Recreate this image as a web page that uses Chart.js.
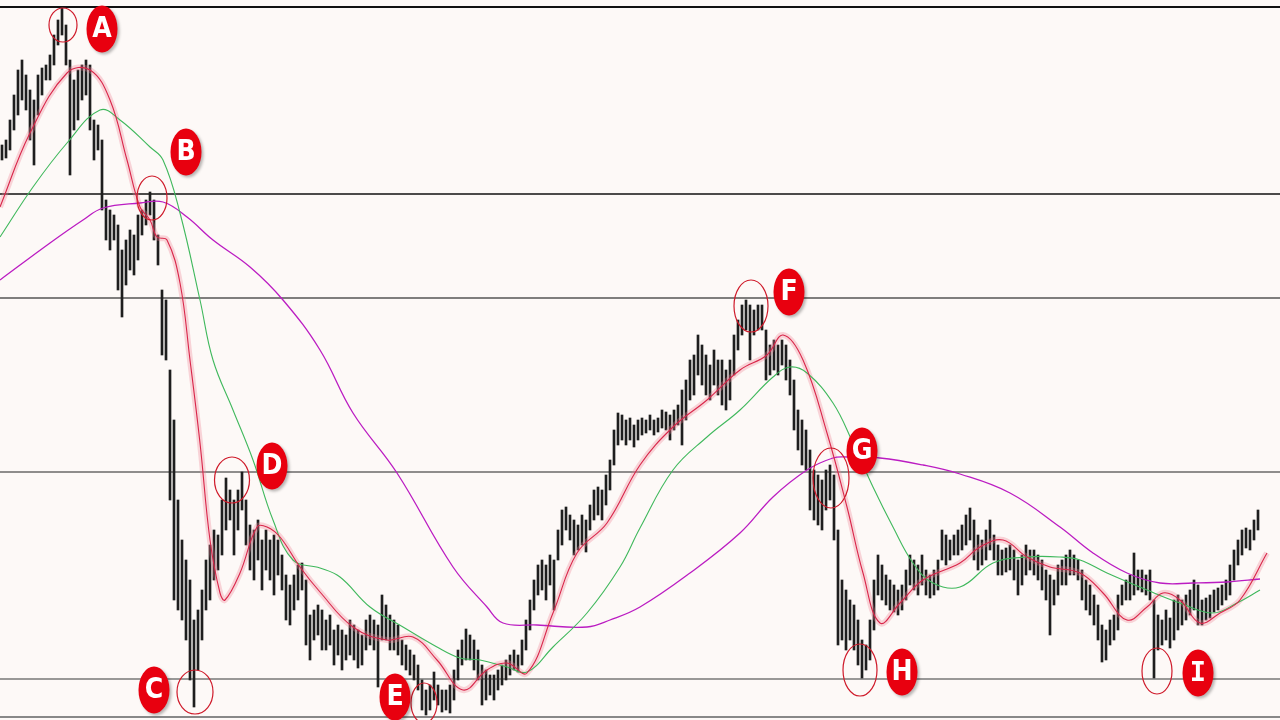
<!DOCTYPE html>
<html><head><meta charset="utf-8">
<script src="https://cdn.jsdelivr.net/npm/chart.js@4.4.1/dist/chart.umd.min.js"></script>
<style>html,body{margin:0;padding:0;background:#fdf9f7;overflow:hidden}canvas{display:block}</style>
</head><body>
<canvas id="c" width="1280" height="720"></canvas>
<script>
// Price bars (high / low), one per period
const barHigh = [575,580,600,625,650,660,645,630,620,645,652,655,665,685,700,713,695,660,640,650,
655,660,655,600,595,580,520,510,505,495,470,480,490,485,505,510,520,528,520,485,
430,420,350,300,220,180,160,140,100,110,130,160,175,190,185,220,242,230,220,230,
248,220,195,190,200,180,190,180,185,180,165,145,135,145,155,157,140,105,110,115,
110,100,105,90,95,90,85,100,95,90,85,100,105,100,95,125,115,105,100,95,
80,75,70,65,55,40,30,35,48,35,30,30,35,50,70,80,91,85,80,70,
55,50,45,45,50,55,60,65,70,65,80,100,120,140,155,160,155,165,160,190,
210,213,205,200,195,205,200,215,230,233,230,245,260,290,307,305,300,302,295,300,
302,300,305,300,302,310,308,305,310,315,330,340,360,365,385,375,365,355,370,360,
360,350,360,385,400,415,420,415,410,415,415,390,375,380,375,380,375,360,340,310,
300,290,270,250,245,240,250,255,245,190,140,130,120,115,100,80,75,100,140,165,
155,145,140,135,130,135,150,165,160,155,165,150,145,150,160,190,185,180,185,190,
195,205,212,200,185,180,190,200,185,175,170,172,175,170,160,165,175,170,170,165,
160,150,145,140,155,160,165,170,165,160,150,140,135,125,115,95,90,100,105,125,
135,140,145,167,150,150,145,150,120,105,100,110,102,120,125,120,125,130,140,135,
120,122,125,130,132,135,140,155,170,180,190,192,190,200,210];
const barLow = [560,562,570,590,605,620,610,580,555,605,625,640,640,655,675,685,655,545,590,600,
620,625,590,560,570,510,480,470,480,430,403,435,450,445,460,485,495,505,480,455,
365,360,220,120,110,100,80,40,13,50,80,110,120,140,150,165,190,200,165,190,
210,175,150,140,160,130,150,140,125,145,130,100,95,110,120,130,75,60,80,85,
70,70,75,55,65,50,60,65,60,52,55,70,75,70,33,80,80,70,70,65,
55,50,45,40,30,10,5,10,20,15,8,10,7,20,40,55,60,60,50,40,
15,20,25,20,30,35,40,45,50,48,55,70,90,110,125,130,120,135,110,160,
175,190,180,165,170,175,168,190,200,205,200,215,230,255,275,280,275,280,273,280,
285,287,290,285,288,292,290,280,290,295,275,300,320,325,345,335,325,320,335,325,
315,310,320,345,370,385,390,360,385,390,390,340,345,350,345,355,340,325,290,270,
255,250,210,200,195,190,210,220,180,75,80,70,80,70,55,42,50,60,90,125,
120,115,110,108,105,110,120,135,130,125,135,125,122,125,130,160,155,160,165,165,
170,175,180,160,150,155,160,170,160,145,145,148,150,140,125,135,145,150,145,140,
130,120,85,115,125,135,135,145,145,140,120,110,105,95,80,58,60,75,80,90,
115,120,120,125,130,128,125,120,42,70,75,80,72,80,90,95,100,105,110,95,
95,100,102,108,110,115,120,125,140,155,165,172,170,180,190];

// Moving averages (period index, price)
const maFastX = [-0.5,7,16.25,22,27,31.25,34.5,37,38.75,41.25,44.5,47,49.5,52,54.5,55.75,59.5,63.75,66.25,69.5,
74.5,79.5,87.75,96.25,102.75,108.75,115.25,121.25,126.25,131.25,137.75,143.75,151.25,159.5,167.75,176.25,184.5,191.25,195.25,200.25,
206.25,211.25,215.25,219.5,224.5,230.25,239.5,244.5,250.25,256.25,262,269.5,275.25,281.25,286.25,290.25,294.5,299.5,304.5,309.5,316.25];
const maFastY = [513,587,647,650,620,560,513,500,483,480,437,360,277,180,127,120,147,193,193,183,
153,128,93,80,83,60,30,50,57,47,107,167,197,255,293,320,350,365,385,360,
287,213,147,97,117,140,157,173,180,163,153,147,127,100,113,127,120,97,107,120,167];
const maMidX = [-0.5,7.75,16.25,24.5,29.5,37,40.25,44.5,49.5,52.75,57.75,62.75,67.75,72.75,79.5,84.5,92,100.25,108.75,114.5,
119.5,126.25,131.25,137.75,146.25,154.5,159.5,167.75,176.25,184.5,192.75,197,201.25,207.75,212.75,217.75,222.75,227.75,232.75,239.5,
247.75,256.25,264.5,269.5,276.25,286.25,294.5,302.75,308.75,314.5];
const maMidY = [483,533,577,610,600,573,560,507,420,360,310,260,200,160,152,143,113,93,73,62,
60,53,48,73,107,153,192,250,283,310,343,353,347,317,277,233,193,157,137,133,
157,163,163,160,147,130,117,107,117,130];
const maSlowX = [-0.5,12,20.25,25.25,34.5,40.25,46.25,52.75,62,70.25,79.5,87.75,98.75,112.75,121.25,125.25,133.75,146.25,152,159.5,
172,184.5,192.75,201.25,207.75,211.25,219.5,230.25,239.5,252,264.5,272.75,281.25,289.5,297.75,306.25,314.5];
const maSlowY = [440,477,500,512,517,518,503,480,453,420,370,307,247,153,113,97,95,93,100,113,
147,187,223,250,262,263,262,255,246,227,193,167,147,137,137,138,141];

// Horizontal price levels
const levels = [713, 526, 422, 248, 41, 3];

// Marked turning points
const markNames = ['A','B','C','D','E','F','G','H','I'];
const markX = [15.25,37.5,48.25,57.5,105.5,187.25,207.25,214.5,288.75];
const markY = [695,522,28,240,17,414,242,50,49];
const badgeX = [25,46,38,67.5,98.25,196.75,215,225,299];
const badgeY = [691,568,30,254,23,428,269,48,47];

const BG = '#fdf9f7';
const circleR = [[14,17],[15,22],[18,22],[17.5,23],[13,20],[17,26],[18,30],[17,26],[15,23]];
const levelStyle = [[2,'#111'],[1.3,'#111'],[1.6,'#555'],[1.2,'#222'],[1.6,'#777'],[2,'#888']];

const toXY = (xs, ys) => xs.map((x, i) => ({x, y: ys[i]}));

const datasets = [];
levels.forEach((lv, k) => {
  datasets.push({type:'line', data:[{x:-0.5,y:lv},{x:319.5,y:lv}], borderColor:levelStyle[k][1],
    borderWidth:levelStyle[k][0], pointRadius:0, order:10});
});
datasets.push({type:'bar', data: barHigh.map((h,i)=>({x:i, y:[barLow[i], h]})),
  backgroundColor:'#1e1e1e', barThickness:2, order:6});
datasets.push({type:'line', data: toXY(maFastX, maFastY), borderColor:'rgba(238,130,150,0.32)', borderWidth:6,
  pointRadius:0, tension:0.4, order:5});
datasets.push({type:'line', data: toXY(maSlowX, maSlowY), borderColor:'#bb1cc2', borderWidth:1.3,
  pointRadius:0, tension:0.4, order:3});
datasets.push({type:'line', data: toXY(maMidX, maMidY), borderColor:'#3fb85c', borderWidth:1.1,
  pointRadius:0, tension:0.4, order:2});
datasets.push({type:'line', data: toXY(maFastX, maFastY), borderColor:'#d9264a', borderWidth:1.1,
  pointRadius:0, tension:0.4, order:1});

const bgPlugin = {
  id:'bg',
  beforeDraw(chart){ const c = chart.ctx; c.save(); c.fillStyle = BG; c.fillRect(0,0,chart.width,chart.height); c.restore(); }
};
const markPlugin = {
  id:'marks',
  afterDatasetsDraw(chart){
    const c = chart.ctx, xs = chart.scales.x, ys = chart.scales.y;
    c.save();
    markNames.forEach((name, i) => {
      const cx = xs.getPixelForValue(markX[i]), cy = ys.getPixelForValue(markY[i]);
      c.beginPath(); c.ellipse(cx, cy, circleR[i][0], circleR[i][1], 0, 0, Math.PI*2);
      c.strokeStyle = '#cf1a2a'; c.lineWidth = 1.2; c.stroke();
      const bx = xs.getPixelForValue(badgeX[i]), by = ys.getPixelForValue(badgeY[i]);
      c.save();
      c.shadowColor = 'rgba(0,0,0,0.28)'; c.shadowBlur = 3; c.shadowOffsetX = 2; c.shadowOffsetY = 2;
      c.beginPath(); c.ellipse(bx, by, 15.5, 23.5, 0, 0, Math.PI*2);
      c.fillStyle = '#e8000f'; c.fill();
      c.restore();
      c.fillStyle = '#ffffff';
      c.textAlign = 'center'; c.textBaseline = 'middle';
      c.font = name === 'I' ? "bold 27px 'DejaVu Sans Mono', monospace" : "bold 28px 'Liberation Sans Narrow', 'DejaVu Sans Condensed', 'Liberation Sans', sans-serif";
      c.fillText(name, bx, by + 1);
    });
    c.restore();
  }
};

new Chart(document.getElementById('c'), {
  type:'bar',
  data:{ datasets },
  options:{
    responsive:false, animation:false, devicePixelRatio:1,
    layout:{ padding:0 },
    plugins:{ legend:{display:false}, tooltip:{enabled:false} },
    scales:{
      x:{ type:'linear', min:-0.5, max:319.5, offset:false, display:false },
      y:{ min:0, max:720, display:false }
    }
  },
  plugins:[bgPlugin, markPlugin]
});
</script>
</body></html>
